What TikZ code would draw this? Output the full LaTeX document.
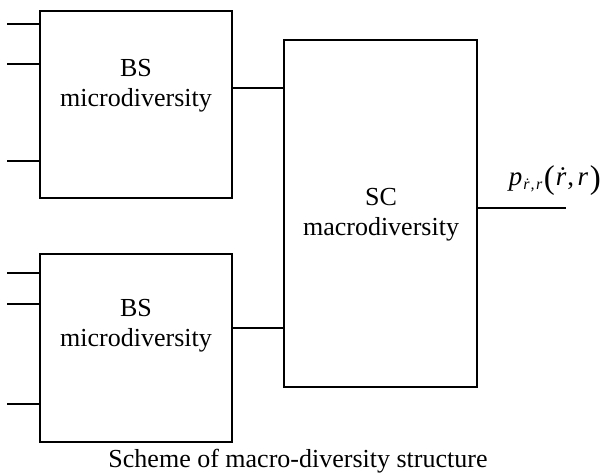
\documentclass[tikz,border=0pt]{standalone}
\usepackage{fontspec}
\setmainfont{Liberation Serif}
\begin{document}
\begin{tikzpicture}[x=1pt,y=-1pt,
  blk/.style={draw,line width=1.5pt,minimum width=#1,inner sep=0pt},
  lbl/.style={font=\fontsize{26}{30}\selectfont,align=center,inner sep=0pt},
  wire/.style={line width=1.5pt}]
\useasboundingbox (0,0) rectangle (604,472);
% boxes
\node[blk=192pt,minimum height=187pt] (bs1) at (136,104.5) {};
\node[blk=192pt,minimum height=188pt] (bs2) at (136,348) {};
\node[blk=193pt,minimum height=347pt] (sc) at (380.5,213.5) {};
% texts
\node[lbl] (t1) at (136,86) {BS\\microdiversity};
\node[lbl] (t2) at (136,326) {BS\\microdiversity};
\node[lbl] (t3) at (381,215) {SC\\macrodiversity};
% input stubs
\foreach \yy/\nm in {24/a,64/b,161/c}{
  \coordinate (i\nm) at (7,\yy);
  \draw[wire] (i\nm) -- (i\nm -| bs1.west);
}
\foreach \yy/\nm in {273/d,304/e,404/f}{
  \coordinate (i\nm) at (7,\yy);
  \draw[wire] (i\nm) -- (i\nm -| bs2.west);
}
% connectors to SC
\coordinate (c1) at (232,88);
\coordinate (c2) at (232,328);
\draw[wire] (c1) -- (c1 -| sc.west);
\draw[wire] (c2) -- (c2 -| sc.west);
% output
\coordinate (o) at (566,208);
\draw[wire] (o -| sc.east) -- (o);
\node[anchor=base east,inner sep=0pt,font=\fontsize{27}{30}\selectfont] (out) at (601,185)
  {\textit{p}\kern1pt\raisebox{-4pt}{\fontsize{16}{16}\selectfont\textit{\.r\kern1pt,\kern1.5pt r}}\kern1.5pt\raisebox{-3pt}{\fontsize{33}{33}\selectfont(}\kern1pt\textit{\.r}\kern1pt,\kern3.5pt\textit{r}\kern1.5pt\raisebox{-3pt}{\fontsize{33}{33}\selectfont)}};
% caption
\node[lbl,anchor=base] (cap) at (298,467) {Scheme of macro-diversity structure};
\end{tikzpicture}
\end{document}
